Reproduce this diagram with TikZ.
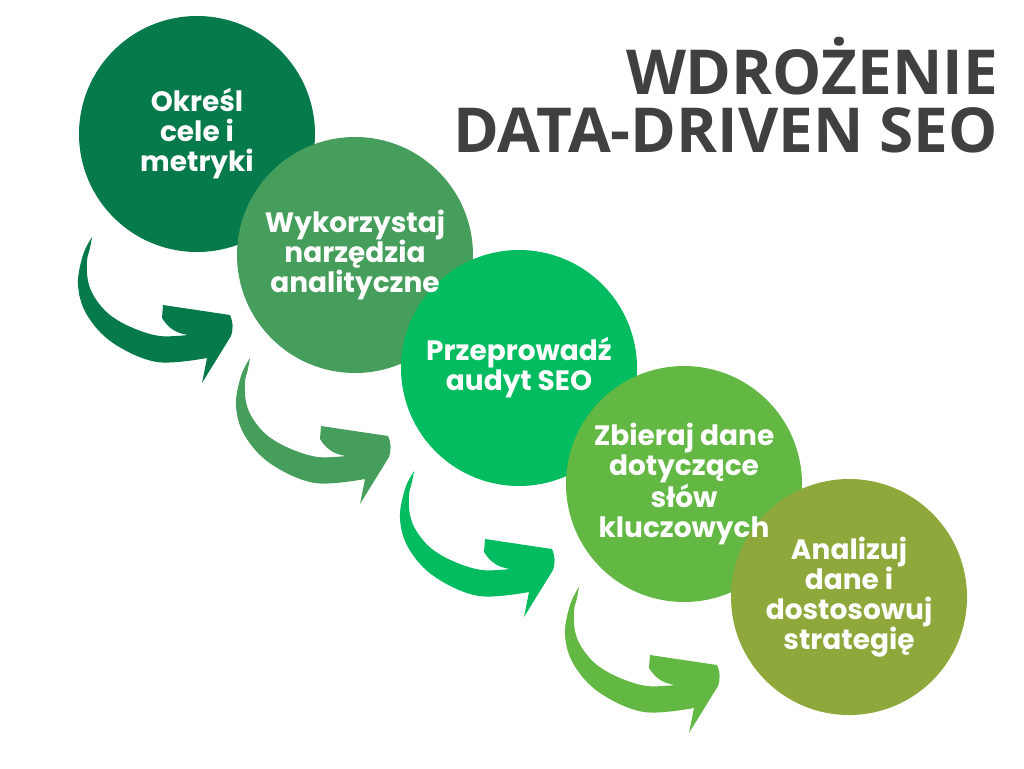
\documentclass[tikz,border=0pt]{standalone}
\usepackage{fontspec}
\usepackage{tikz}
\usetikzlibrary{positioning,calc}
\IfFontExistsTF{Open Sans ExtraBold}
  {\newfontfamily\titlefont{Open Sans ExtraBold}\newcommand\titleweight{}}
  {\newfontfamily\titlefont{Open Sans}\newcommand\titleweight{\bfseries}}
\newfontfamily\stepfont{Poppins}
\definecolor{titlegray}{RGB}{64,64,64}
\definecolor{stepone}{RGB}{6,122,74}
\definecolor{steptwo}{RGB}{69,158,91}
\definecolor{stepthree}{RGB}{2,188,95}
\definecolor{stepfour}{RGB}{98,184,67}
\definecolor{stepfive}{RGB}{143,168,59}

\begin{document}
\begin{tikzpicture}[
  x=1pt,y=-1pt,
  circ/.style={circle,minimum size=236pt,inner sep=0pt},
  steptext/.style={text=white,align=center,inner sep=0pt,
    font=\stepfont\bfseries\fontsize{28}{30}\selectfont},
  bendarrow/.pic={
    \fill[#1] plot[smooth,tension=0.6] coordinates {(-105,103) (-114,121) (-119,151) (-110,181) (-84,209) (-40,228) (10,224)}
      -- (5,249) -- (34,202) to[bend right=20] (33,181) -- (-34,171) -- (-35,184)
      to[bend right=25] (-9,201)
      -- plot[smooth,tension=0.6] coordinates {(-9,201) (-37,202) (-64,194) (-87,181) (-102,164) (-109,147) (-110,127) (-107,114) (-105,103)}
      -- cycle;
  },
]
\useasboundingbox (0,0) rectangle (1024,768);

% circles, each one lies over the one before
\node[circ,fill=stepone] (s1) at (197,134) {};
\node[circ,fill=steptwo] (s2) at (355,255) {};
\node[circ,fill=stepthree] (s3) at (519,368) {};
\node[circ,fill=stepfour] (s4) at (684,484) {};
\node[circ,fill=stepfive] (s5) at (849,597) {};

% texts on top of all circles
\node[steptext] (t1) at (s1) {Określ\\cele i\\metryki};
\node[steptext] (t2) at (s2) {Wykorzystaj\\narzędzia\\analityczne};
\node[steptext] (t3) at (s3) {Przeprowadź\\audyt SEO};
\node[steptext] (t4) at (s4) {Zbieraj dane\\dotyczące\\słów\\kluczowych};
\node[steptext] (t5) at (s5) {Analizuj\\dane i\\dostosowuj\\strategię};

% curved arrows
\pic at (s1.center) {bendarrow=stepone};
\pic at (s2.center) {bendarrow=steptwo};
\pic at (s3.center) {bendarrow=stepthree};
\pic at (s4.center) {bendarrow=stepfour};

% title
\node[anchor=north east,align=right,text=titlegray,inner sep=0pt,
  font=\titlefont\titleweight\fontsize{62}{58}\selectfont] (title) at (998,37)
  {WDROŻENIE\\DATA-DRIVEN SEO};

\end{tikzpicture}
\end{document}
